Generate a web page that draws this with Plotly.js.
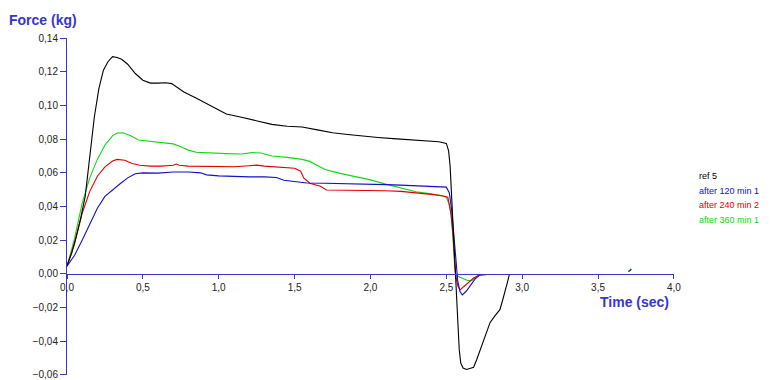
<!DOCTYPE html>
<html>
<head>
<meta charset="utf-8">
<script src="https://cdn.plot.ly/plotly-3.0.1.min.js"></script>
<style>html,body{margin:0;padding:0;background:#fff;}#chart{width:773px;height:380px;}</style>
</head>
<body>
<div id="chart"></div>
<script>
// ---- data (time in sec, force in kg) ----
const seriesNames = ["ref 5", "after 120 min 1", "after 240 min 2", "after 360 min 1"];

const ref5T = [0, 0.03, 0.06, 0.09, 0.12, 0.15, 0.18, 0.21, 0.24, 0.27, 0.30, 0.33, 0.36, 0.40, 0.45, 0.50, 0.55, 0.60, 0.65, 0.69, 0.72, 0.77, 0.85, 0.95, 1.05, 1.15, 1.25, 1.35, 1.45, 1.55, 1.65, 1.75, 1.85, 1.95, 2.05, 2.15, 2.25, 2.35, 2.45, 2.50, 2.515, 2.525, 2.535, 2.545, 2.555, 2.563, 2.575, 2.585, 2.595, 2.61, 2.634, 2.66, 2.68, 2.70, 2.733, 2.76, 2.788, 2.82, 2.853, 2.87, 2.886, 2.90, 2.915];
const ref5V = [0.005, 0.012, 0.022, 0.033, 0.046, 0.068, 0.093, 0.110, 0.121, 0.126, 0.129, 0.1285, 0.1275, 0.1245, 0.119, 0.115, 0.1133, 0.1133, 0.1135, 0.113, 0.111, 0.108, 0.1045, 0.0995, 0.095, 0.093, 0.091, 0.0888, 0.0877, 0.0872, 0.0855, 0.0838, 0.0828, 0.0818, 0.081, 0.0803, 0.0797, 0.079, 0.0785, 0.0775, 0.073, 0.064, 0.046, 0.026, 0.008, -0.002, -0.025, -0.045, -0.053, -0.056, -0.0568, -0.0562, -0.0555, -0.051, -0.043, -0.036, -0.029, -0.025, -0.0213, -0.016, -0.0114, -0.006, -0.0006];

const m120T = [0, 0.05, 0.10, 0.15, 0.20, 0.25, 0.30, 0.35, 0.40, 0.45, 0.50, 0.60, 0.70, 0.80, 0.88, 0.92, 1.00, 1.10, 1.20, 1.30, 1.38, 1.43, 1.50, 1.58, 1.70, 1.80, 1.90, 2.00, 2.10, 2.20, 2.30, 2.40, 2.50, 2.52, 2.535, 2.545, 2.555, 2.565, 2.575, 2.59, 2.605, 2.63, 2.66, 2.69, 2.72, 2.76];
const m120V = [0.0045, 0.011, 0.020, 0.030, 0.039, 0.046, 0.050, 0.0535, 0.057, 0.0595, 0.060, 0.0598, 0.0605, 0.0605, 0.060, 0.0588, 0.0582, 0.0578, 0.0576, 0.0576, 0.0572, 0.0556, 0.0548, 0.054, 0.0538, 0.0537, 0.0535, 0.0533, 0.053, 0.0527, 0.0523, 0.052, 0.0515, 0.048, 0.038, 0.028, 0.016, 0.004, -0.004, -0.0105, -0.0125, -0.0105, -0.007, -0.003, -0.0008, -0.0005];

const m240T = [0, 0.05, 0.10, 0.15, 0.20, 0.25, 0.30, 0.33, 0.38, 0.43, 0.48, 0.55, 0.62, 0.70, 0.72, 0.74, 0.80, 0.90, 1.00, 1.10, 1.20, 1.25, 1.30, 1.40, 1.50, 1.54, 1.56, 1.60, 1.67, 1.71, 1.80, 1.90, 2.00, 2.10, 2.20, 2.30, 2.40, 2.48, 2.51, 2.53, 2.545, 2.56, 2.575, 2.59, 2.62, 2.65, 2.68, 2.72];
const m240V = [0.0045, 0.018, 0.036, 0.049, 0.058, 0.0635, 0.067, 0.068, 0.0675, 0.0655, 0.0645, 0.064, 0.064, 0.0645, 0.0652, 0.0645, 0.064, 0.0638, 0.0636, 0.0636, 0.0642, 0.0646, 0.064, 0.0633, 0.0627, 0.061, 0.057, 0.0538, 0.052, 0.0498, 0.0497, 0.0497, 0.0497, 0.0494, 0.049, 0.0482, 0.0472, 0.0462, 0.0455, 0.036, 0.022, 0.0, -0.007, -0.0095, -0.007, -0.0045, -0.0025, -0.0005];

const m360T = [0, 0.05, 0.10, 0.15, 0.20, 0.25, 0.30, 0.33, 0.37, 0.42, 0.47, 0.55, 0.62, 0.70, 0.75, 0.80, 0.85, 0.95, 1.05, 1.15, 1.22, 1.28, 1.35, 1.45, 1.55, 1.60, 1.65, 1.70, 1.80, 1.90, 2.00, 2.10, 2.20, 2.30, 2.40, 2.46, 2.50, 2.52, 2.535, 2.545, 2.555, 2.565, 2.60, 2.64, 2.67, 2.70, 2.73];
const m360V = [0.0045, 0.021, 0.042, 0.057, 0.068, 0.0765, 0.082, 0.0837, 0.0838, 0.082, 0.0795, 0.0788, 0.0783, 0.0772, 0.0755, 0.0735, 0.0722, 0.0716, 0.0714, 0.0712, 0.072, 0.0718, 0.070, 0.0692, 0.068, 0.0668, 0.0645, 0.062, 0.0597, 0.0578, 0.0558, 0.0533, 0.0512, 0.0488, 0.0475, 0.0467, 0.0455, 0.041, 0.033, 0.020, 0.005, -0.001, -0.0025, -0.004, -0.004, -0.0015, -0.0003];

// small stray mark near t = 3.7
const markT = [3.70, 3.72];
const markV = [0.0012, 0.0028];

const seriesColors = ["#000000", "#1010C8", "#E00000", "#10D810"];

const seriesT = [ref5T, m120T, m240T, m360T];
const seriesV = [ref5V, m120V, m240V, m360V];

const traces = seriesNames.map((n, i) => ({
  x: seriesT[i], y: seriesV[i], type: "scatter", mode: "lines", name: n,
  line: {color: seriesColors[i], width: 1.1}, hoverinfo: "skip"
}));
// draw order: green, red, blue, black on top like reference
const ordered = [traces[3], traces[2], traces[1], traces[0]];
ordered.push({x: markT, y: markV, type: "scatter", mode: "lines", line: {color: "#1c4a4a", width: 1.5}, hoverinfo: "skip"});

const axisColor = "#3636CC";
const L = 67, R = 99, T = 38, B = 5, W = 773, H = 380;
const pw = W - L - R, ph = H - T - B;
const px = v => (v - L) / pw;
const py = v => (H - B - v) / ph;

const legendY = [176, 190.5, 205, 219.5];
const annotations = seriesNames.map((n, i) => ({
  text: n, xref: "paper", yref: "paper", x: px(697), y: py(legendY[i]),
  xanchor: "left", yanchor: "middle", showarrow: false,
  font: {family: "Liberation Sans, Arial, sans-serif", size: 9, color: seriesColors[i]}
}));
annotations.push({text: "<b>Force (kg)</b>", xref: "paper", yref: "paper", x: px(43), y: py(20),
  xanchor: "center", yanchor: "middle", showarrow: false,
  font: {family: "Liberation Sans, Arial, sans-serif", size: 14, color: axisColor}});
annotations.push({text: "<b>Time (sec)</b>", xref: "paper", yref: "paper", x: px(634), y: py(302),
  xanchor: "center", yanchor: "middle", showarrow: false,
  font: {family: "Liberation Sans, Arial, sans-serif", size: 14, color: axisColor}});

const layout = {
  width: W, height: H,
  margin: {l: L, r: R, t: T, b: B, pad: 0},
  paper_bgcolor: "#ffffff", plot_bgcolor: "#ffffff",
  separators: ",.",
  showlegend: false,
  font: {family: "Liberation Sans, Arial, sans-serif", size: 10, color: "#222222"},
  xaxis: {
    range: [0, 4.0005], tick0: 0, dtick: 0.5, tickformat: ".1f",
    showgrid: false, zeroline: false, showline: true, linecolor: axisColor, linewidth: 1,
    ticks: "outside", ticklen: 4, tickcolor: axisColor, tickwidth: 1,
    anchor: "free", position: 0.3,
    tickfont: {size: 10, color: "#222222"}
  },
  yaxis: {
    range: [-0.0601, 0.1401], tick0: 0, dtick: 0.02, tickformat: ".2f",
    showgrid: false, zeroline: false, showline: true, linecolor: axisColor, linewidth: 1,
    ticks: "outside", ticklen: 6, tickcolor: axisColor, tickwidth: 1,
    ticklabeloverflow: "allow",
    tickfont: {size: 10, color: "#222222"}
  },
  annotations: annotations
};

Plotly.newPlot("chart", ordered, layout, {displayModeBar: false, staticPlot: true});
</script>
</body>
</html>
